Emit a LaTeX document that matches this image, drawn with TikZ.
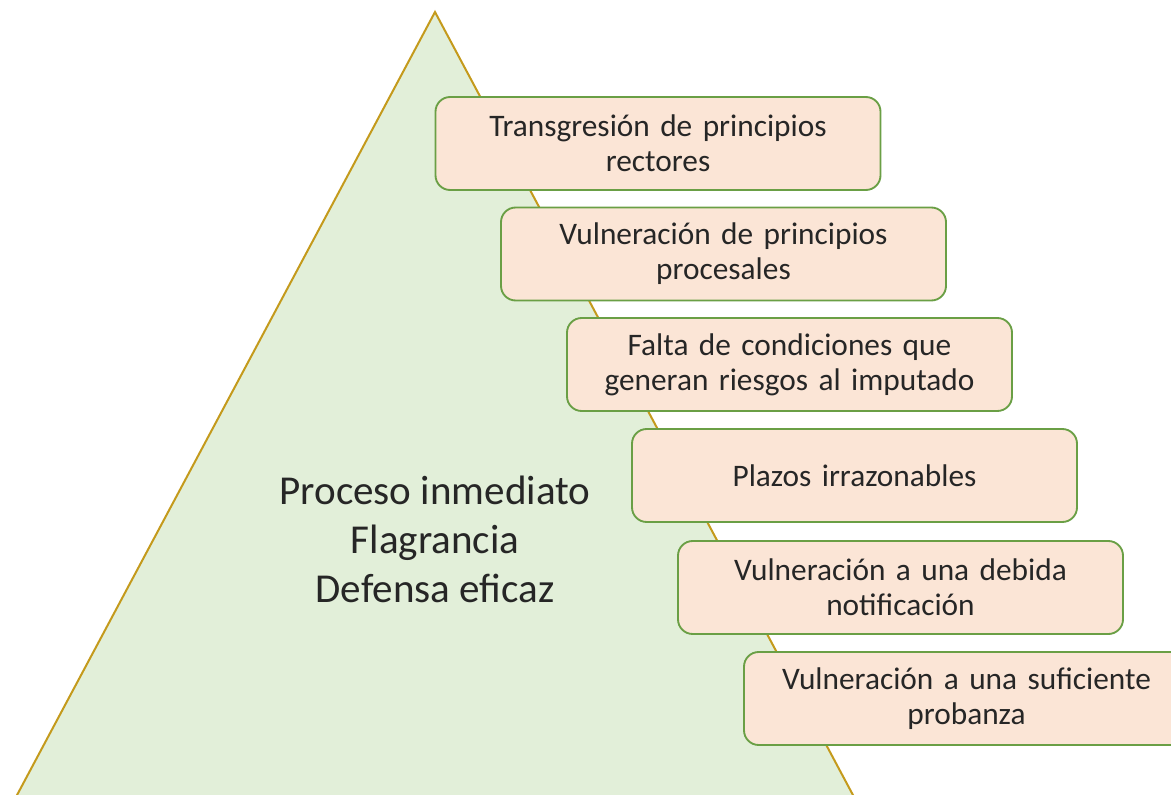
\documentclass[tikz,border=0pt]{standalone}
\usepackage{fontspec}
\setmainfont{Carlito}
\definecolor{trifill}{HTML}{E2EFD9}
\definecolor{tristroke}{HTML}{C49A1C}
\definecolor{boxfill}{HTML}{FBE5D6}
\definecolor{boxstroke}{HTML}{6A9F45}
\definecolor{txt}{HTML}{262626}
\begin{document}
\begin{tikzpicture}[x=0.75pt,y=-0.75pt,
  causebox/.style={draw=boxstroke,fill=boxfill,line width=1.4pt,rounded corners=11pt,
    minimum width=333.75pt,minimum height=69.75pt,text width=330pt,align=center,
    inner sep=0pt,font=\fontsize{23.5}{26.3}\selectfont,text=txt},
  maintext/.style={align=center,font=\fontsize{30.8}{36.8}\selectfont,text=txt}]
\useasboundingbox (0,0) rectangle (1171,795);
\begin{scope}
\clip (0,0) rectangle (1171,795);
\draw[draw=tristroke,fill=trifill,line width=1.5pt] (435,12) -- (909,900) -- (-39,900) -- cycle;
\node[maintext] (core) at (435,539) {Proceso inmediato\\Flagrancia\\Defensa eficaz};
\node[causebox] (b1) at (658,143.5) {Transgresión de principios\\rectores};
\node[causebox] (b2) at (723.5,254) {Vulneración de principios\\procesales};
\node[causebox] (b3) at (789.5,364.5) {Falta de condiciones que\\generan riesgos al imputado};
\node[causebox] (b4) at (854.5,475.5) {Plazos irrazonables};
\node[causebox] (b5) at (900.5,587.5) {Vulneración a una debida\\notificación};
\node[causebox] (b6) at (966.5,698.5) {Vulneración a una suficiente\\probanza};
\end{scope}
\end{tikzpicture}
\end{document}
